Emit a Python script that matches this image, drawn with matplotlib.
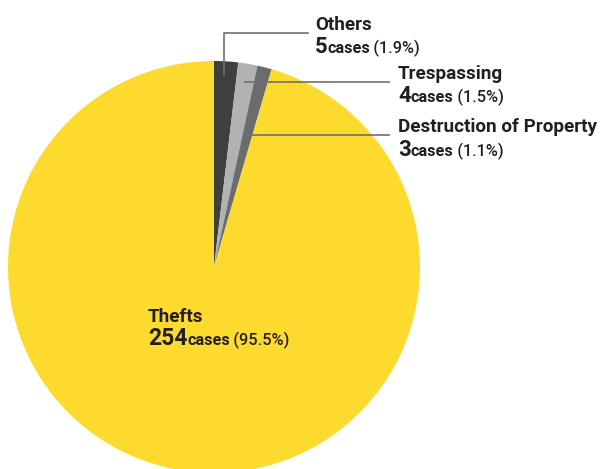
import matplotlib.pyplot as plt

categorias = ["Others", "Trespassing", "Destruction of Property", "Thefts"]
casos = [5, 4, 3, 254]
percentuais = ["1.9%", "1.5%", "1.1%", "95.5%"]
cores = ["#3e3f41", "#b1b2b4", "#6b6c6e", "#fddb2e"]

fig = plt.figure(figsize=(6.02, 4.69), dpi=100)
ax = fig.add_axes([0, 0, 1, 1])

ax.pie(casos, colors=cores, startangle=90, counterclock=False,
       center=(214, 202), radius=206, frame=True,
       wedgeprops={"linewidth": 0})
ax.set_xlim(0, 602)
ax.set_ylim(0, 469)
ax.axis("off")

fonte = "Roboto"
r = fig.canvas.get_renderer()

def rotulo(x, y, nome, n, pct, tam_nome=13.6, tam_num=16, dy=23):
    # y = baseline da primeira linha (em pixels a partir do topo)
    ax.text(x, 469 - y, nome, fontsize=tam_nome, fontweight="bold",
            family=fonte, color="#231f20", va="baseline")
    y2 = 469 - (y + dy)
    xx = x
    partes = [(str(n), tam_num, "bold"), ("cases", tam_nome * 0.86, "bold"),
              ("\u2009(" + pct + ")", tam_nome * 0.86, "medium")]
    for txt, tam, peso in partes:
        t = ax.text(xx, y2, txt, fontsize=tam, fontweight=peso, family=fonte,
                    color="#231f20", va="baseline")
        bb = t.get_window_extent(renderer=r)
        xx += bb.width

linha = dict(color="#6f7072", lw=1.2)
# linhas de chamada
ax.plot([224, 224, 308], [469 - 75, 469 - 33, 469 - 33], **linha)
ax.plot([245, 389], [469 - 82, 469 - 82], **linha)
ax.plot([248, 389], [469 - 135, 469 - 135], **linha)

rotulo(315, 30, categorias[0], casos[0], percentuais[0])
rotulo(398, 79, categorias[1], casos[1], percentuais[1])
rotulo(398, 132, categorias[2], casos[2], percentuais[2], dy=24)
rotulo(148, 322, categorias[3], casos[3], percentuais[3], tam_nome=13.6, tam_num=16.5)

fig.savefig("out.png", dpi=100)
